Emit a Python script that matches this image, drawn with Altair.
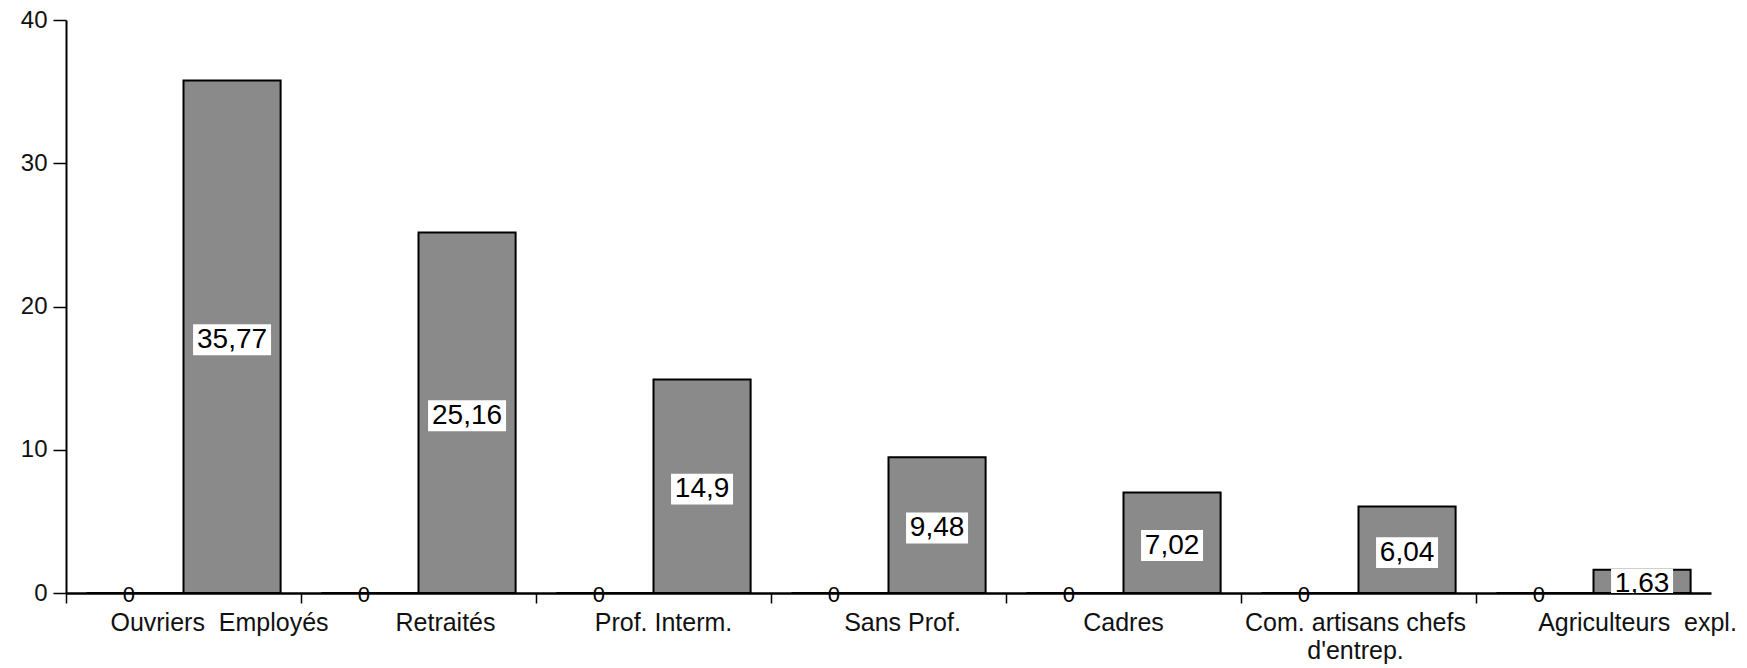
import altair as alt
import pandas as pd

NB = "\u00a0"
categories = ["Ouvriers" + NB + NB + "Employés", "Retraités", "Prof." + NB + "Interm.",
              "Sans" + NB + "Prof.", "Cadres", "Com." + NB + "artisans" + NB + "chefs|d'entrep.",
              "Agriculteurs" + NB + NB + "expl."]
series_a = [0, 0, 0, 0, 0, 0, 0]
series_b = [35.77, 25.16, 14.9, 9.48, 7.02, 6.04, 1.63]
labels_b = ["35,77", "25,16", "14,9", "9,48", "7,02", "6,04", "1,63"]
labels_a = ["0", "0", "0", "0", "0", "0", "0"]
y_ticks = [0, 10, 20, 30, 40]
label_shift = [36, 27, 10, 14, 0, -3, 44]

rows = []
for c, v, l in zip(categories, series_a, labels_a):
    rows.append({"cat": c, "series": "A", "value": v, "label": l})
for c, v, l in zip(categories, series_b, labels_b):
    rows.append({"cat": c, "series": "B", "value": v, "label": l})
df = pd.DataFrame(rows)

W, H = 1645, 573

x_enc = alt.X("cat:N", sort=categories, scale=alt.Scale(paddingInner=0, paddingOuter=0),
              axis=alt.Axis(title=None, labelAngle=0, bandPosition=0,
                            labelFont="Liberation Sans", labelFontSize=25, labelColor="#111",
                            labelPadding=7, labelLineHeight=28, labelOverlap=False,
                            labelLimit=0,
                            labelExpr="split(datum.label, '|')",
                            labelOffset={"condition": [
                                {"test": 'datum.value === "%s"' % c, "value": s}
                                for c, s in zip(categories, label_shift)],
                                "value": 0},
                            domainColor="black", domainWidth=2.5,
                            tickColor="black", tickWidth=1.5, tickSize=10))
xo_enc = alt.XOffset("series:N", scale=alt.Scale(domain=["A", "B"], paddingInner=0, paddingOuter=0.21))
y_scale = alt.Scale(domain=[0, 40], nice=False)
y_enc = alt.Y("value:Q", scale=y_scale,
              axis=alt.Axis(title=None, values=y_ticks, grid=False,
                            labelFont="Liberation Sans", labelFontSize=24, labelColor="#111",
                            labelPadding=6, domainColor="black", domainWidth=2,
                            tickColor="black", tickWidth=1.5, tickSize=13))

base = alt.Chart(df)

bars = base.mark_bar(fill="#8a8a8a", stroke="black", strokeWidth=2).encode(
    x=x_enc, xOffset=xo_enc, y=y_enc
)

lbl = base.transform_filter("datum.series === 'B'").transform_calculate(
    mid="datum.value / 2 - 0.2",
    lo="datum.value / 2 - 1.28",
    hi="datum.value / 2 + 0.88",
    n="length(datum.label)",
)

box5 = lbl.transform_filter("datum.n >= 5").mark_bar(fill="white", width=78, clip=True).encode(
    x=alt.X("cat:N", sort=categories), xOffset=xo_enc,
    y=alt.Y("lo:Q", scale=y_scale), y2="hi:Q"
)
box4 = lbl.transform_filter("datum.n < 5").mark_bar(fill="white", width=62, clip=True).encode(
    x=alt.X("cat:N", sort=categories), xOffset=xo_enc,
    y=alt.Y("lo:Q", scale=y_scale), y2="hi:Q"
)
txt = lbl.mark_text(font="Liberation Sans", fontSize=28, color="black",
                    baseline="middle", align="center", clip=True).encode(
    x=alt.X("cat:N", sort=categories), xOffset=xo_enc,
    y=alt.Y("mid:Q", scale=y_scale), text="label:N"
)
zeros = base.transform_filter("datum.series === 'A'").mark_text(
    font="Liberation Sans", fontSize=22, color="black", baseline="middle", align="center", dy=2, dx=-6
).encode(
    x=alt.X("cat:N", sort=categories), xOffset=xo_enc,
    y=alt.Y("value:Q", scale=y_scale), text="label:N"
)

chart = alt.layer(bars, box5, box4, txt, zeros).properties(
    width=W, height=H,
    autosize=alt.AutoSizeParams(type="none"),
    padding={"left": 66, "top": 20, "right": 36, "bottom": 75},
    background="white",
).configure_view(stroke=None)

chart.save("out.html", embed_options={"renderer": "svg", "actions": False})
